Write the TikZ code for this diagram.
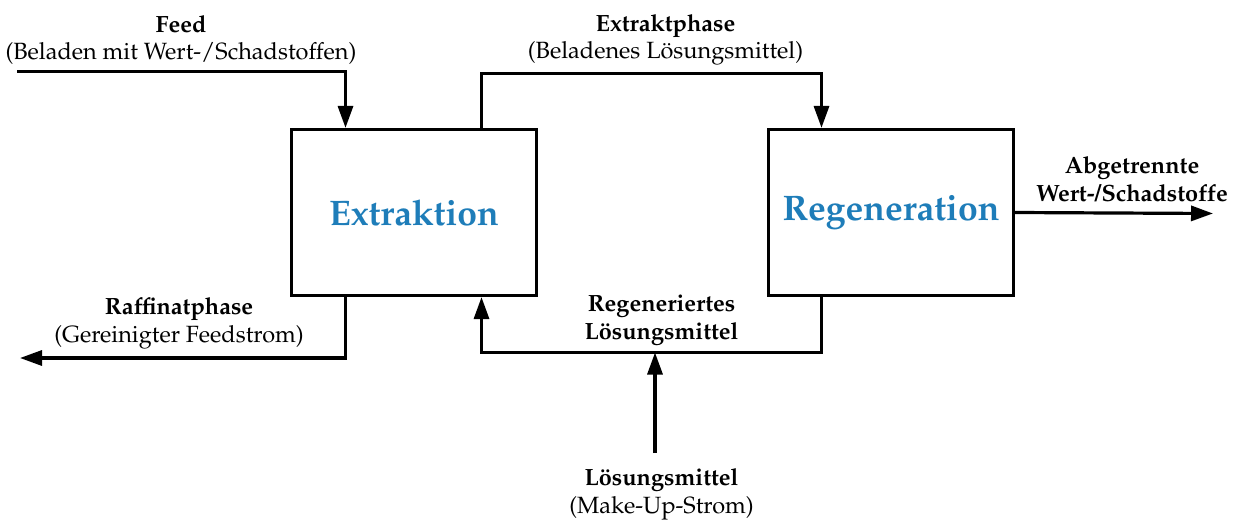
\documentclass[tikz,border=0pt]{standalone}
\usepackage[T1]{fontenc}
\usepackage{mathpazo}
\usetikzlibrary{arrows.meta,positioning}
\definecolor{unitblue}{RGB}{30,125,185}
\tikzstyle{stream}=[line width=3.2pt,-{Triangle[length=22pt,width=15pt]}]
\tikzstyle{unit}=[draw,line width=3.2pt,minimum width=245pt,minimum height=166pt,
                text=unitblue,font=\fontsize{35.5}{42}\selectfont\bfseries]
\tikzstyle{tag}=[align=center,inner sep=0pt,font=\fontsize{23.5}{27.5}\selectfont]
\tikzstyle{boldtag}=[tag,font=\fontsize{23.5}{28}\selectfont\bfseries]

\begin{document}
\begin{tikzpicture}[x=1pt,y=-1pt]
        \useasboundingbox (0,0) rectangle (1238,519);
        \node [unit] (extr) at (414,212.5) {Extraktion};
        \node [unit] (regen) at (891,212.5) {Regeneration};
        % free ends of the streams
        \coordinate (feedin) at (17,71.5);
        \coordinate (raffout) at (20,358);
        \coordinate (prodout) at (1213,213.5);
        \coordinate (makeup) at (655,453);
        \coordinate (mix) at (655,352.5);
        \draw[stream] (feedin) -| ([xshift=-68.5pt]extr.north);
        \draw[stream] ([xshift=67.5pt]extr.north) -- ++(0,-54.5) -| ([xshift=-69.5pt]regen.north);
        \draw[stream] ([xshift=-68.5pt]extr.south) |- (raffout);
        \draw[stream] ([xshift=-69.5pt]regen.south) |- (mix) -| ([xshift=67.5pt]extr.south);
        \draw[stream] (makeup) -- (mix);
        \draw[stream] (regen.east) -- (prodout);
        % stream labels
        \node [tag] (feedtag) at (181,40) {\textbf{Feed}\\(Beladen mit Wert-/Schadstoffen)};
        \node [tag] (extracttag) at (665.5,40) {\textbf{Extraktphase}\\(Beladenes L\"osungsmittel)};
        \node [boldtag] (prodtag) at (1132,179.5) {Abgetrennte\\Wert-/Schadstoffe};
        \node [tag] (rafftag) at (179,323.5) {\textbf{Raffinatphase}\\(Gereinigter Feedstrom)};
        \node [boldtag] (recycletag) at (661.5,320.5) {Regeneriertes\\L\"osungsmittel};
        \node [tag] (makeuptag) at (661.5,494.5) {\textbf{L\"osungsmittel}\\(Make-Up-Strom)};
\end{tikzpicture}
\end{document}
